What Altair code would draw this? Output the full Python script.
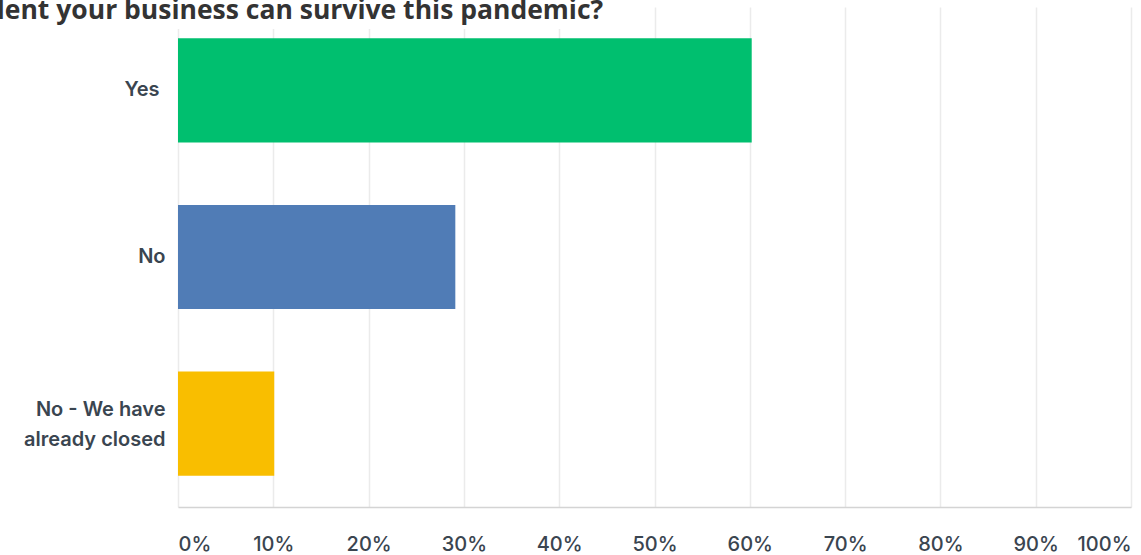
import altair as alt
import pandas as pd

categories = ["Yes", "No", "No - We have|already closed"]
values = [60.2, 29.1, 10.1]
colors = ["#00bf6f", "#507cb6", "#f9be00"]
tick_values = [0, 10, 20, 30, 40, 50, 60, 70, 80, 90, 100]
title_text = "dent your business can survive this pandemic?"

df = pd.DataFrame({"answer": categories, "pct": values})
tdf = pd.DataFrame({"t": [title_text]})

LABEL_FONT = "Inter"
LABEL_COLOR = "#3a4550"
MULTI = "datum.value == 'No - We have|already closed'"

bars = alt.Chart(df).mark_bar().encode(
    x=alt.X("pct:Q",
            scale=alt.Scale(domain=[0, 100], nice=False),
            axis=alt.Axis(values=tick_values, labelExpr="datum.value + '%'",
                          title=None, ticks=False, grid=True,
                          gridColor="#ebebeb", gridWidth=1.5,
                          domain=True, domainColor="#d4d4d4", domainWidth=1.5,
                          labelFlush=True, labelPadding=27,
                          labelFont=LABEL_FONT, labelFontSize=20,
                          labelFontWeight=500, labelColor=LABEL_COLOR)),
    y=alt.Y("answer:N", sort=categories,
            scale=alt.Scale(paddingInner=0.375, paddingOuter=0.1875),
            axis=alt.Axis(title=None, ticks=False, domain=False, grid=False,
                          labelExpr="split(datum.label, '|')",
                          labelPadding={"condition": {"test": "datum.value == 'Yes'", "value": 19},
                                        "value": 13},
                          labelLineHeight=30,
                          labelOffset={"condition": {"test": MULTI, "value": -14},
                                       "value": 0},
                          labelFont=LABEL_FONT, labelFontSize=20,
                          labelFontWeight=600, labelColor=LABEL_COLOR,
                          labelLimit=300)),
    color=alt.Color("answer:N", scale=alt.Scale(domain=categories, range=colors),
                    legend=None),
)

box = alt.Chart(tdf).mark_rect(color="white").encode(
    x=alt.value(-200), x2=alt.value(428), y=alt.value(-10), y2=alt.value(22)
)

title = alt.Chart(tdf).mark_text(
    align="left", baseline="alphabetic", font="Open Sans", fontWeight="bold",
    fontSize=26.5, color="#333333"
).encode(x=alt.value(-190), y=alt.value(12), text="t:N")

chart = alt.layer(bars, box, title).properties(
    width=953, height=500,
    autosize=alt.AutoSizeParams(type="none"),
    padding={"left": 178, "top": 7, "right": 10, "bottom": 48},
).configure_view(stroke=None)

chart.save("out.html", embed_options={"renderer": "svg", "actions": False})
